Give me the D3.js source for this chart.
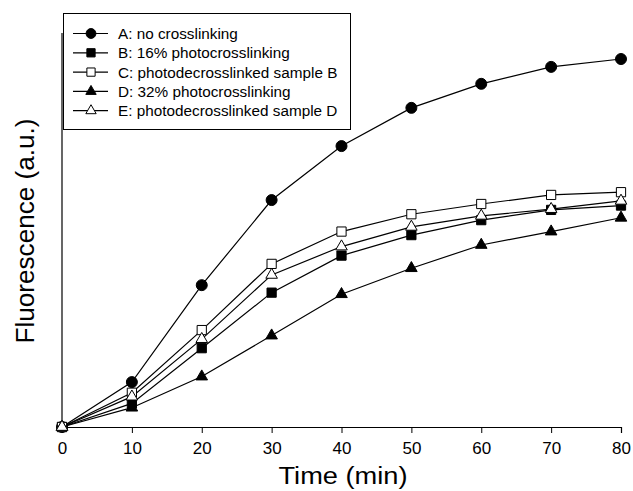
<!DOCTYPE html>
<html>
<head>
<meta charset="utf-8">
<script src="https://cdn.jsdelivr.net/npm/d3@7"></script>
<style>
  body { margin: 0; background: #fff; }
  text { font-family: "Liberation Sans", Arial, sans-serif; }
</style>
</head>
<body>
<svg id="chart" width="633" height="491"></svg>
<script>
// data (arbitrary fluorescence units)
const times = [0, 10, 20, 30, 40, 50, 60, 70, 80];
const seriesA = [0, 11.4, 36.0, 57.6, 71.3, 81.0, 87.1, 91.4, 93.4];
const seriesB = [0, 6.0, 20.0, 34.1, 43.5, 48.7, 52.5, 55.1, 56.2];
const seriesC = [0, 8.7, 24.6, 41.4, 49.6, 54.0, 56.6, 58.9, 59.6];
const seriesD = [0, 4.9, 12.8, 23.2, 33.7, 40.3, 46.2, 49.6, 53.1];
const seriesE = [0, 7.7, 22.3, 38.6, 45.8, 50.8, 53.6, 55.3, 57.4];
const xTicks = [0, 10, 20, 30, 40, 50, 60, 70, 80];
const labels = [
  "A: no crosslinking",
  "B: 16% photocrosslinking",
  "C: photodecrosslinked sample B",
  "D: 32% photocrosslinking",
  "E: photodecrosslinked sample D"
];

const series = [
  {name: labels[0], values: seriesA, shape: d3.symbolCircle, fill: "#000", size: 95},
  {name: labels[1], values: seriesB, shape: d3.symbolSquare, fill: "#000", size: 85},
  {name: labels[2], values: seriesC, shape: d3.symbolSquare, fill: "#fff", size: 85},
  {name: labels[3], values: seriesD, shape: d3.symbolTriangle, fill: "#000", size: 58},
  {name: labels[4], values: seriesE, shape: d3.symbolTriangle, fill: "#fff", size: 58}
];

const svg = d3.select("#chart");

const x = d3.scaleLinear().domain([0, 80]).range([62, 621]);
const y = d3.scaleLinear().domain([0, 100]).range([427, 33]);

// x axis
const xAxis = d3.axisBottom(x).tickValues(xTicks).tickSize(6).tickPadding(9).tickFormat(d3.format("d"));
const gx = svg.append("g").attr("transform", "translate(0,427)").call(xAxis);
gx.select(".domain").attr("stroke", "#000").attr("stroke-width", 1.2);
gx.selectAll(".tick line").attr("stroke", "#000");
gx.selectAll(".tick text").attr("font-size", 17).attr("fill", "#000")
  .style("font-family", "'Liberation Sans', Arial, sans-serif");

// y axis (no ticks)
svg.append("line")
  .attr("x1", 62).attr("x2", 62)
  .attr("y1", y(100)).attr("y2", y(0))
  .attr("stroke", "#000").attr("stroke-width", 1.2);

// axis titles
svg.append("text")
  .attr("x", 343).attr("y", 484)
  .attr("text-anchor", "middle")
  .attr("font-size", 23)
  .attr("textLength", 129)
  .attr("lengthAdjust", "spacingAndGlyphs")
  .text("Time (min)");

svg.append("text")
  .attr("transform", "translate(34,231) rotate(-90)")
  .attr("text-anchor", "middle")
  .attr("font-size", 25)
  .attr("textLength", 225)
  .attr("lengthAdjust", "spacingAndGlyphs")
  .text("Fluorescence (a.u.)");

// lines and markers
const line = d3.line()
  .x((d, i) => x(times[i]))
  .y(d => y(d));

for (let s of series) {
  svg.append("path")
    .datum(s.values)
    .attr("d", line)
    .attr("fill", "none")
    .attr("stroke", "#000")
    .attr("stroke-width", 1.2);
}

for (let s of series) {
  svg.selectAll(null)
    .data(s.values)
    .enter()
    .append("path")
    .attr("d", d3.symbol().type(s.shape).size(s.size))
    .attr("transform", (d, i) => "translate(" + x(times[i]) + "," + y(d) + ")")
    .attr("fill", s.fill)
    .attr("stroke", "#000")
    .attr("stroke-width", 1);
}

// legend
const lg = svg.append("g");
lg.append("rect")
  .attr("x", 63.5).attr("y", 13.5)
  .attr("width", 287).attr("height", 116)
  .attr("fill", "#fff")
  .attr("stroke", "#000")
  .attr("stroke-width", 1);

series.forEach((s, i) => {
  let yy = 33.5 + i * 19.3;
  lg.append("line")
    .attr("x1", 73).attr("x2", 108)
    .attr("y1", yy).attr("y2", yy)
    .attr("stroke", "#000").attr("stroke-width", 1.2);
  lg.append("path")
    .attr("d", d3.symbol().type(s.shape).size(s.size * 0.8))
    .attr("transform", "translate(91," + yy + ")")
    .attr("fill", s.fill)
    .attr("stroke", "#000");
  lg.append("text")
    .attr("x", 118).attr("y", yy + 5.5)
    .attr("font-size", 15.3)
    .text(s.name);
});
</script>
</body>
</html>
